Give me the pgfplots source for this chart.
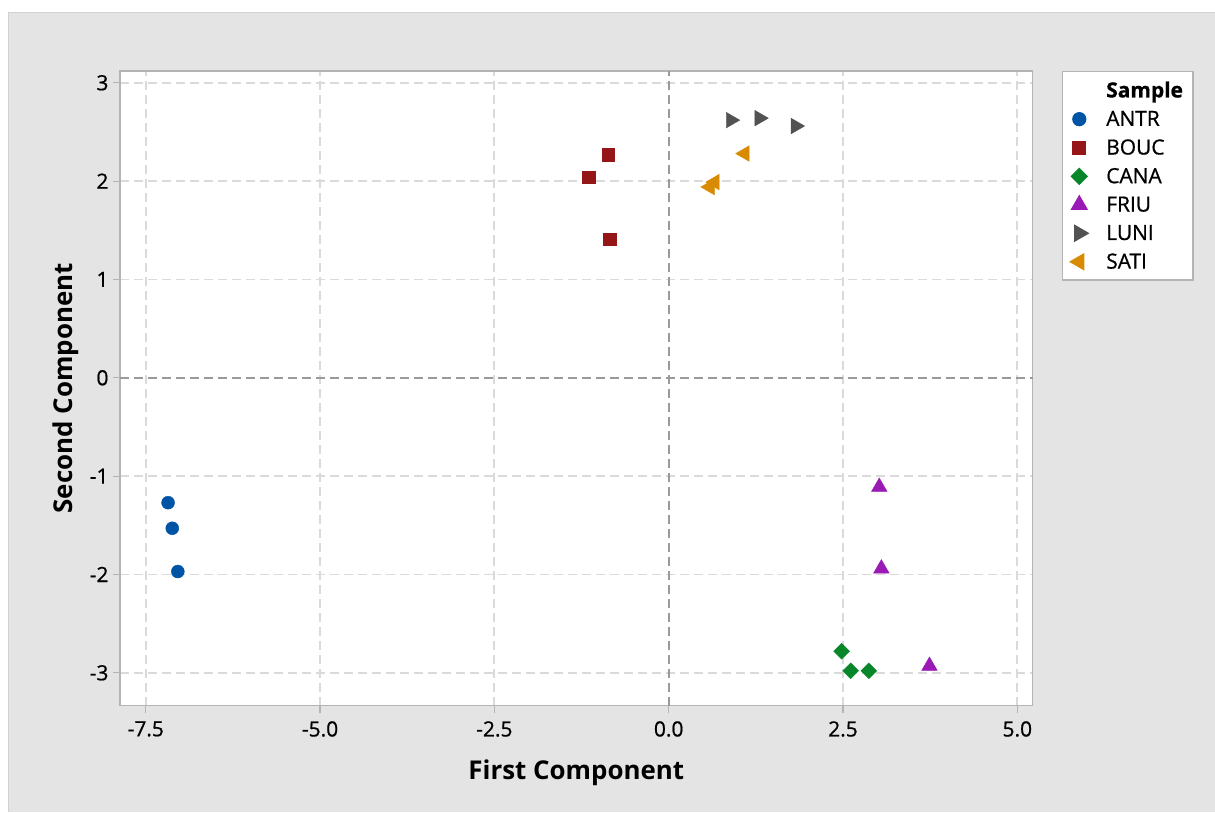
\documentclass[border=0pt]{standalone}
\usepackage{pgfplots}
\pgfplotsset{compat=1.18}
\usepackage{fontspec}
\setmainfont{Open Sans}
\newfontfamily\semib{Open Sans}[FakeBold=0.8]
\definecolor{bggray}{HTML}{E4E4E4}
\definecolor{framegray}{HTML}{B4B4B4}
\definecolor{gridgray}{HTML}{DADADA}
\definecolor{refgray}{HTML}{9A9A9A}
\definecolor{cANTR}{HTML}{0054A6}
\definecolor{cBOUC}{HTML}{951616}
\definecolor{cCANA}{HTML}{07872A}
\definecolor{cFRIU}{HTML}{9A1AB6}
\definecolor{cLUNI}{HTML}{525252}
\definecolor{cSATI}{HTML}{D88A00}
\begin{document}
\begin{tikzpicture}[x=1bp,y=1bp]
\fill[white] (0,0) rectangle (1215,812);
\fill[bggray] (8,0) rectangle (1215,800);
\draw[framegray!60,line width=0.8bp] (8,0) -- (8,800) -- (1215,800);
\begin{axis}[
  at={(120bp,106bp)}, anchor=south west,
  scale only axis, width=913bp, height=635bp,
  xmin=-7.87, xmax=5.22, ymin=-3.335, ymax=3.12,
  axis background/.style={fill=white},
  axis line style={framegray, line width=1.2bp},
  xtick={-7.5,-5,-2.5,0,2.5,5},
  xticklabels={-7.5,-5.0,-2.5,0.0,2.5,5.0},
  ytick={-3,-2,-1,0,1,2,3},
  yticklabels={-3,-2,-1,0,1,2,3},
  tick align=outside, tick pos=left,
  major tick length=7bp,
  tick style={framegray, line width=1.2bp},
  grid=major,
  major grid style={gridgray, line width=1.8bp, dash pattern=on 9bp off 5bp},
  ticklabel style={font=\semib\fontsize{21}{24}\selectfont, text=black},
  xticklabel style={yshift=-5bp},
  yticklabel style={xshift=-1bp},
  xlabel={\textbf{First Component}},
  ylabel={\textbf{Second Component}},
  xlabel style={font=\fontsize{26}{28}\selectfont, yshift=-16bp},
  ylabel style={font=\fontsize{26}{28}\selectfont, yshift=4bp},
  legend style={at={(1.0318,1)}, anchor=north west, draw=framegray, line width=1.2bp,
    fill=white, font=\semib\fontsize{21}{24}\selectfont, row sep=8bp,
    inner xsep=8bp, inner ysep=8bp, cells={anchor=west},
    /tikz/every odd column/.append style={column sep=16bp}},
  legend cell align=left,
  clip=false,
]
\draw[refgray, line width=1.8bp, dash pattern=on 9bp off 5bp] (axis cs:0,-3.335) -- (axis cs:0,3.12);
\draw[refgray, line width=1.8bp, dash pattern=on 9bp off 5bp] (axis cs:-7.87,0) -- (axis cs:5.22,0);
\addlegendimage{empty legend}
\addlegendentry{\textbf{Sample}}
\addplot[only marks, mark=*, mark size=6.5bp, color=cANTR] coordinates {(-7.18,-1.27) (-7.12,-1.53) (-7.04,-1.97)};
\addlegendentry{ANTR}
\addplot[only marks, mark=square*, mark size=6.3bp, color=cBOUC] coordinates {(-1.15,2.04) (-0.87,2.27) (-0.85,1.41)};
\addlegendentry{BOUC}
\addplot[only marks, mark=square*, mark options={rotate=45}, mark size=5.6bp, color=cCANA] coordinates {(2.48,-2.78) (2.61,-2.98) (2.87,-2.98)};
\addlegendentry{CANA}
\addplot[only marks, mark=triangle*, mark size=9bp, color=cFRIU] coordinates {(3.02,-1.11) (3.05,-1.94) (3.74,-2.93)};
\addlegendentry{FRIU}
\addplot[only marks, mark=triangle*, mark options={rotate=-90}, mark size=9bp, color=cLUNI] coordinates {(0.89,2.62) (1.30,2.64) (1.82,2.56)};
\addlegendentry{LUNI}
\addplot[only marks, mark=triangle*, mark options={rotate=90}, mark size=9bp, color=cSATI] coordinates {(1.09,2.28) (0.66,1.99) (0.59,1.94)};
\addlegendentry{SATI}
\end{axis}
\end{tikzpicture}
\end{document}
